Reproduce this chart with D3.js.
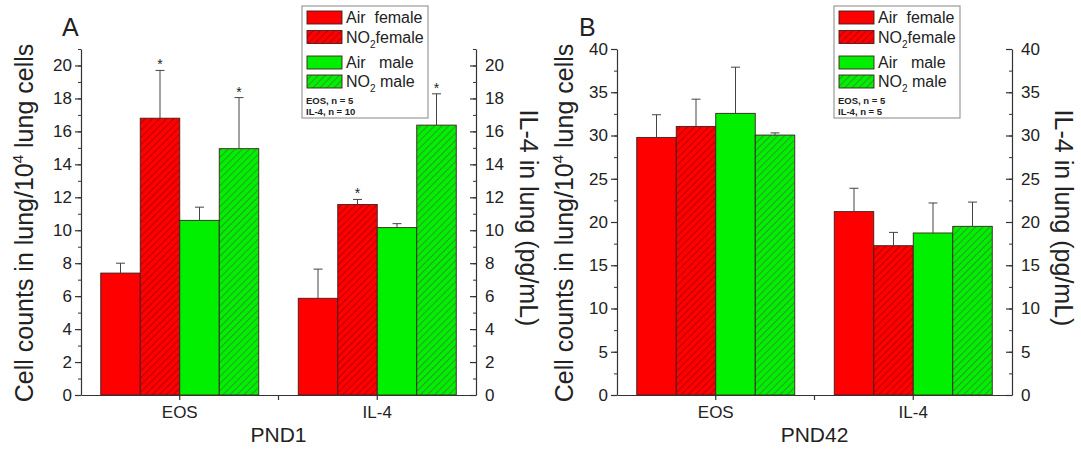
<!DOCTYPE html>
<html><head><meta charset="utf-8">
<script src="https://cdn.jsdelivr.net/npm/d3@7"></script>
<style>
body{margin:0;background:#fff}
svg{display:block;font-family:"Liberation Sans",Arial,sans-serif}
</style>
</head><body>
<svg id="chart" width="1081" height="450"></svg>
<script>
// ---------- data ----------
const categories = ["EOS", "IL-4"];
const seriesNames = ["Air female", "NO2 female", "Air male", "NO2 male"];

const pnd1EosMean = [7.4, 16.8, 10.6, 14.95];
const pnd1EosErr  = [0.6, 2.9, 0.8, 3.1];
const pnd1EosSig  = [false, true, false, true];
const pnd1Il4Mean = [5.87, 11.56, 10.16, 16.38];
const pnd1Il4Err  = [1.77, 0.31, 0.24, 1.9];
const pnd1Il4Sig  = [false, true, false, true];

const pnd42EosMean = [29.78, 31.05, 32.56, 30.05];
const pnd42EosErr  = [2.62, 3.15, 5.34, 0.25];
const pnd42EosSig  = [false, false, false, false];
const pnd42Il4Mean = [21.2, 17.26, 18.73, 19.5];
const pnd42Il4Err  = [2.7, 1.54, 3.47, 2.8];
const pnd42Il4Sig  = [false, false, false, false];

const pnd1Ticks  = [0, 2, 4, 6, 8, 10, 12, 14, 16, 18, 20];
const pnd42Ticks = [0, 5, 10, 15, 20, 25, 30, 35, 40];

// ---------- styles ----------
const baseColors  = ["#ff0000", "#ff0000", "#00f000", "#00f000"];
const hatchColors = [null, "#b80000", null, "#2e9a2e"];
const axisColor = "#333";

const svg = d3.select("#chart");
const defs = svg.append("defs");
function makeHatch(id, base, line) {
  const p = defs.append("pattern").attr("id", id)
    .attr("patternUnits", "userSpaceOnUse").attr("width", 5).attr("height", 5)
    .attr("patternTransform", "rotate(45)");
  p.append("rect").attr("width", 5).attr("height", 5).attr("fill", base);
  p.append("line").attr("x1", 0.5).attr("y1", 0).attr("x2", 0.5).attr("y2", 5)
    .attr("stroke", line).attr("stroke-width", 1);
}
makeHatch("hatchRed", baseColors[1], hatchColors[1]);
makeHatch("hatchGreen", baseColors[3], hatchColors[3]);
const fills = [baseColors[0], "url(#hatchRed)", baseColors[2], "url(#hatchGreen)"];

function drawPanel(cfg) {
  const g = svg.append("g");
  const y = d3.scaleLinear().domain([0, cfg.yMax]).range([cfg.bottom, cfg.top]);
  const yR = d3.scaleLinear().domain([0, cfg.yMax]).range([cfg.bottom, cfg.top]);
  const x = d3.scaleBand().domain(categories).range([cfg.left, cfg.right])
    .paddingInner(0.2).paddingOuter(0.1);
  const xs = d3.scaleBand().domain(d3.range(seriesNames.length)).range([0, x.bandwidth()]).padding(0);

  const groups = [
    {cat: categories[0], mean: cfg.eosMean, err: cfg.eosErr, sig: cfg.eosSig, scale: y},
    {cat: categories[1], mean: cfg.il4Mean, err: cfg.il4Err, sig: cfg.il4Sig, scale: yR}
  ];

  groups.forEach(grp => {
    const gg = g.append("g").attr("transform", `translate(${x(grp.cat)},0)`);
    const rows = grp.mean.map((m, i) => ({i, m, e: grp.err[i], s: grp.sig[i]}));
    gg.selectAll("rect.bar").data(rows).join("rect").attr("class", "bar")
      .attr("x", d => xs(d.i)).attr("width", xs.bandwidth())
      .attr("y", d => grp.scale(d.m)).attr("height", d => grp.scale(0) - grp.scale(d.m))
      .attr("fill", d => fills[d.i]).attr("stroke", "#3a2020").attr("stroke-width", 0.9);
    gg.selectAll("line.eb").data(rows).join("line").attr("class", "eb")
      .attr("x1", d => xs(d.i) + xs.bandwidth() / 2).attr("x2", d => xs(d.i) + xs.bandwidth() / 2)
      .attr("y1", d => grp.scale(d.m)).attr("y2", d => grp.scale(d.m + d.e))
      .attr("stroke", "#444").attr("stroke-width", 1);
    gg.selectAll("line.cap").data(rows).join("line").attr("class", "cap")
      .attr("x1", d => xs(d.i) + xs.bandwidth() / 2 - 4.5).attr("x2", d => xs(d.i) + xs.bandwidth() / 2 + 4.5)
      .attr("y1", d => grp.scale(d.m + d.e)).attr("y2", d => grp.scale(d.m + d.e))
      .attr("stroke", "#444").attr("stroke-width", 1);
    gg.selectAll("text.star").data(rows.filter(d => d.s)).join("text").attr("class", "star")
      .attr("x", d => xs(d.i) + xs.bandwidth() / 2).attr("y", d => grp.scale(d.m + d.e) - 1)
      .attr("text-anchor", "middle").attr("font-size", 14).attr("fill", "#222").text("*");
  });

  // left axis
  const minor = d3.range(0, cfg.yMax + 0.001, cfg.minorStep);
  g.append("g").attr("transform", `translate(${cfg.left},0)`)
    .call(d3.axisLeft(y).tickValues(minor).tickSize(3).tickFormat(""))
    .call(a => a.select(".domain").remove())
    .selectAll("line").attr("stroke", axisColor);
  const la = g.append("g").attr("transform", `translate(${cfg.left},0)`)
    .call(d3.axisLeft(y).tickValues(cfg.ticks).tickSize(6).tickSizeOuter(0).tickPadding(3));
  // right axis
  g.append("g").attr("transform", `translate(${cfg.right},0)`)
    .call(d3.axisRight(yR).tickValues(minor).tickSize(-3).tickFormat(""))
    .call(a => a.select(".domain").remove())
    .selectAll("line").attr("stroke", axisColor);
  const ra = g.append("g").attr("transform", `translate(${cfg.right},0)`)
    .call(d3.axisRight(yR).tickValues(cfg.ticks).tickSize(-6).tickSizeOuter(0).tickPadding(9));
  // bottom axis
  const ba = g.append("g").attr("transform", `translate(0,${cfg.bottom})`)
    .call(d3.axisBottom(x).tickSize(5).tickSizeOuter(0).tickPadding(6));
  const mid = (x.range()[0] + x.range()[1]) / 2;
  g.append("line").attr("x1", mid).attr("x2", mid).attr("y1", cfg.bottom).attr("y2", cfg.bottom + 5)
    .attr("stroke", axisColor).attr("stroke-width", 1.2);

  [la, ra, ba].forEach(a => {
    a.selectAll("path,line").attr("stroke", axisColor).attr("stroke-width", 1.2);
    a.selectAll("text").attr("fill", "#222").attr("font-size", 17).attr("font-family", "Liberation Sans, Arial");
  });

  // axis titles
  const lt = g.append("text")
    .attr("transform", `translate(${cfg.leftTitleX},${(cfg.top + cfg.bottom) / 2 + 1}) rotate(-90)`)
    .attr("text-anchor", "middle").attr("font-size", 25).attr("fill", "#222");
  lt.append("tspan").text("Cell counts in lung/10");
  lt.append("tspan").attr("dy", -10).attr("font-size", 15).text("4");
  lt.append("tspan").attr("dy", 10).text(" lung cells");

  g.append("text")
    .attr("transform", `translate(${cfg.rightTitleX},${(cfg.top + cfg.bottom) / 2 - 4}) rotate(90)`)
    .attr("text-anchor", "middle").attr("font-size", 25).attr("fill", "#222")
    .text("IL-4 in lung (pg/mL)");

  g.append("text").attr("x", mid).attr("y", cfg.bottom + 47).attr("text-anchor", "middle")
    .attr("font-size", 21).attr("fill", "#222").text(cfg.title);

  g.append("text").attr("x", cfg.letterX).attr("y", 36).attr("font-size", 25).attr("fill", "#222").text(cfg.letter);

  // legend
  const lg = g.append("g").attr("transform", `translate(${cfg.legendX},6)`);
  lg.append("rect").attr("width", 126).attr("height", 112).attr("fill", "#fff")
    .attr("stroke", "#999").attr("stroke-width", 1.2);
  const rowY = [11.5, 31, 56.5, 75.5];
  const labelParts = [["Air  female", null, ""], ["NO", "2", "female"], ["Air   male", null, ""], ["NO", "2", " male"]];
  seriesNames.forEach((nm, i) => {
    lg.append("rect").attr("x", 5).attr("y", rowY[i] - 6.5).attr("width", 35).attr("height", 13)
      .attr("fill", fills[i]).attr("stroke", "#3a2020").attr("stroke-width", 0.9);
    const t = lg.append("text").attr("x", 44).attr("y", rowY[i] + 5.5).attr("font-size", 16)
      .attr("fill", "#222").style("white-space", "pre");
    const p = labelParts[i];
    t.append("tspan").text(p[0]);
    if (p[1]) {
      t.append("tspan").attr("dy", 5).attr("font-size", 10).text(p[1]);
      t.append("tspan").attr("dy", -5).text(p[2]);
    }
  });
  lg.append("text").attr("x", 4).attr("y", 98).attr("font-size", 9.5).attr("font-weight", "bold")
    .attr("fill", "#222").text(cfg.nText[0]);
  lg.append("text").attr("x", 4).attr("y", 109).attr("font-size", 9.5).attr("font-weight", "bold")
    .attr("fill", "#222").text(cfg.nText[1]);
}

drawPanel({
  left: 81, right: 476, top: 49, bottom: 395, yMax: 21, minorStep: 1, ticks: pnd1Ticks,
  eosMean: pnd1EosMean, eosErr: pnd1EosErr, eosSig: pnd1EosSig,
  il4Mean: pnd1Il4Mean, il4Err: pnd1Il4Err, il4Sig: pnd1Il4Sig,
  leftTitleX: 33, rightTitleX: 520, title: "PND1", letter: "A", letterX: 62,
  legendX: 302, nText: ["EOS, n = 5", "IL-4, n = 10"]
});
drawPanel({
  left: 617, right: 1012, top: 49, bottom: 395, yMax: 40, minorStep: 2.5, ticks: pnd42Ticks,
  eosMean: pnd42EosMean, eosErr: pnd42EosErr, eosSig: pnd42EosSig,
  il4Mean: pnd42Il4Mean, il4Err: pnd42Il4Err, il4Sig: pnd42Il4Sig,
  leftTitleX: 573, rightTitleX: 1055, title: "PND42", letter: "B", letterX: 579,
  legendX: 834, nText: ["EOS, n = 5", "IL-4, n = 5"]
});
</script>
</body></html>
